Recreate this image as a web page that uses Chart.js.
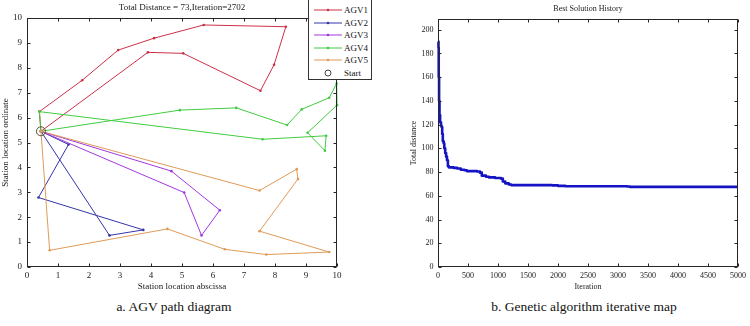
<!DOCTYPE html>
<html><head><meta charset="utf-8">
<script src="https://cdn.jsdelivr.net/npm/chart.js@4"></script>
<style>
html,body{margin:0;padding:0;background:#fff;width:750px;height:326px;overflow:hidden;font-family:"Liberation Serif",serif;}
#w1{position:absolute;left:0;top:0;width:345px;height:292px;}
#w2{position:absolute;left:390px;top:0;width:360px;height:292px;}
.cap{position:absolute;top:299px;font-size:13.5px;line-height:16px;color:#111;white-space:nowrap;transform:translateX(-50%);}
#legend{position:absolute;left:308px;top:-1px;width:64px;height:81px;border:1px solid #333;background:#fff;box-sizing:border-box;}
.lrow{position:absolute;left:0;width:62px;height:12px;}
.lrow svg{position:absolute;left:4px;top:0;}
.lrow span{position:absolute;left:35px;top:0;font-size:9px;line-height:12px;color:#111;font-weight:normal;}
</style></head><body>
<div id="w1"><canvas id="c1" width="345" height="292"></canvas></div>
<div id="w2"><canvas id="c2" width="360" height="292"></canvas></div>
<div id="legend"></div>
<div class="cap" style="left:174px">a. AGV path diagram</div>
<div class="cap" style="left:584px">b. Genetic algorithm iterative map</div>
<script>
// ---------- data: AGV paths ----------
const startPoint = [0.45, 5.45];
const agv1 = [[0.45,5.45],[0.4,6.24],[1.78,7.5],[2.94,8.71],[4.1,9.19],[5.7,9.72],[8.35,9.65],[7.97,8.12],[7.53,7.08],[5.04,8.58],[3.9,8.62],[0.45,5.45]];
const agv2 = [[0.45,5.45],[1.34,4.92],[0.37,2.79],[3.75,1.49],[2.66,1.27],[0.45,5.45]];
const agv3 = [[0.45,5.45],[4.66,3.85],[6.22,2.28],[5.63,1.27],[5.07,2.99],[0.45,5.45]];
const agv4 = [[0.45,5.45],[4.93,6.3],[6.75,6.39],[8.39,5.7],[8.86,6.33],[9.75,6.8],[9.99,7.37],[10,6.5],[9.05,5.39],[9.61,4.67],[9.65,5.27],[7.6,5.13],[0.4,6.24],[0.45,5.45]];
const agv5 = [[0.45,5.45],[7.5,3.07],[8.7,3.93],[8.74,3.53],[7.5,1.44],[9.75,0.6],[7.72,0.5],[6.38,0.71],[4.53,1.53],[0.73,0.67],[0.45,5.45]];
const agvNames = ['AGV1','AGV2','AGV3','AGV4','AGV5'];
const agvColors = ['#cc3048','#3434a8','#a038e0','#40cc40','#e09a58'];
const xTicksLeft = [0,1,2,3,4,5,6,7,8,9,10];
const yTicksLeft = [0,1,2,3,4,5,6,7,8,9,10];
const leftTitle = 'Total Distance = 73,Iteration=2702';

// ---------- data: GA history ----------
const iterations = [0,8,12,18,25,35,50,60,70,80,95,105,120,135,150,165,180,260,320,380,440,480,650,700,730,800,850,950,1050,1080,1120,1180,1220,1900,2000,2120,3150,3200,5000];
const bestDistance = [190,185,160,140,128,122,119,118,112,106,104,100,96,93,90,85,84,83.5,83,82,81.5,80.8,80.5,79.5,77,76,75.5,75,74.5,72,70.5,69.5,69,68.8,68.4,68,67.8,67.5,67.5];
const xTicksRight = [0,500,1000,1500,2000,2500,3000,3500,4000,4500,5000];
const yTicksRight = [0,20,40,60,80,100,120,140,160,180,200];

const SERIF = '"Liberation Serif", "Times New Roman", serif';
const TXT = '#1a1a1a';
const plain = v => String(v);

const matBox = {
  id: 'matBox',
  afterDraw(chart, args, opts) {
    const {ctx, chartArea: a, scales} = chart;
    const L = opts.len || 3;
    ctx.save();
    ctx.strokeStyle = '#262626';
    ctx.lineWidth = 1;
    const l = Math.round(a.left) + 0.5, r = Math.round(a.right) - 0.5;
    const t = Math.round(a.top) + 0.5, b = Math.round(a.bottom) - 0.5;
    ctx.beginPath();
    scales.x.ticks.forEach(tk => {
      const px = Math.round(scales.x.getPixelForValue(tk.value)) + 0.5;
      ctx.moveTo(px, b); ctx.lineTo(px, b - L);
      ctx.moveTo(px, t); ctx.lineTo(px, t + L);
    });
    scales.y.ticks.forEach(tk => {
      const py = Math.round(scales.y.getPixelForValue(tk.value)) + 0.5;
      ctx.moveTo(l, py); ctx.lineTo(l + L, py);
      ctx.moveTo(r, py); ctx.lineTo(r - L, py);
    });
    ctx.stroke();
    ctx.strokeRect(l, t, r - l, b - t);
    ctx.restore();
  }
};

function toXY(arr) { return arr.map(p => ({x: p[0], y: p[1]})); }

const paths = [agv1, agv2, agv3, agv4, agv5];
const leftDatasets = paths.map((p, i) => ({
  label: agvNames[i],
  data: toXY(p),
  showLine: true,
  borderColor: agvColors[i],
  backgroundColor: agvColors[i],
  borderWidth: 1,
  pointRadius: 1.3,
  pointBorderWidth: 0,
  pointBackgroundColor: agvColors[i],
  clip: 4,
  order: 5 - i
}));
leftDatasets.push({
  label: 'Start',
  data: [{x: startPoint[0], y: startPoint[1]}],
  showLine: false,
  pointRadius: 4.5,
  pointBorderWidth: 1,
  pointBorderColor: '#5a5030',
  pointBackgroundColor: 'rgba(0,0,0,0)',
  clip: 6,
  order: 0
});

new Chart(document.getElementById('c1'), {
  type: 'scatter',
  data: {datasets: leftDatasets},
  options: {
    responsive: false, animation: false,
    layout: {padding: {left: 0, right: 7, top: 0, bottom: 0}},
    plugins: {
      legend: {display: false}, tooltip: {enabled: false},
      title: {display: true, text: leftTitle, fullSize: false, color: TXT,
        font: {family: SERIF, size: 9, weight: 'normal'}, padding: {top: 2.6, bottom: 4.6}},
      matBox: {len: 3}
    },
    scales: {
      x: {type: 'linear', min: 0, max: 10,
        afterBuildTicks: s => { s.ticks = xTicksLeft.map(v => ({value: v})); },
        afterFit: s => { s.height = 25; },
        ticks: {font: {family: SERIF, size: 9}, color: TXT, padding: 3.5, maxRotation: 0, autoSkip: false, callback: plain},
        grid: {display: false, drawTicks: false}, border: {display: false},
        title: {display: true, text: 'Station location abscissa', color: TXT, font: {family: SERIF, size: 9}, padding: 0}},
      y: {type: 'linear', min: 0, max: 10,
        afterBuildTicks: s => { s.ticks = yTicksLeft.map(v => ({value: v})); },
        afterFit: s => { s.width = 27; },
        ticks: {font: {family: SERIF, size: 9}, color: TXT, padding: 5, autoSkip: false, callback: plain},
        grid: {display: false, drawTicks: false}, border: {display: false},
        title: {display: true, text: 'Station location ordinate', color: TXT, font: {family: SERIF, size: 9}, padding: 0}}
    }
  },
  plugins: [matBox]
});

new Chart(document.getElementById('c2'), {
  type: 'scatter',
  data: {datasets: [{
    label: 'Best',
    data: iterations.map((v, i) => ({x: v, y: bestDistance[i]})),
    showLine: true, stepped: 'before',
    borderColor: '#1414c4', borderWidth: 2.6, pointRadius: 0,
    borderJoinStyle: 'round', clip: 3
  }]},
  options: {
    responsive: false, animation: false,
    layout: {padding: {left: 0, right: 8, top: 0, bottom: 0}},
    plugins: {
      legend: {display: false}, tooltip: {enabled: false},
      title: {display: true, text: 'Best Solution History', fullSize: false, color: TXT,
        font: {family: SERIF, size: 8, weight: 'normal'}, padding: {top: 4.2, bottom: 5.2}},
      matBox: {len: 3}
    },
    scales: {
      x: {type: 'linear', min: 0, max: 5000,
        afterBuildTicks: s => { s.ticks = xTicksRight.map(v => ({value: v})); },
        afterFit: s => { s.height = 25; },
        ticks: {font: {family: SERIF, size: 8}, color: TXT, padding: 4, maxRotation: 0, autoSkip: false, callback: plain},
        grid: {display: false, drawTicks: false}, border: {display: false},
        title: {display: true, text: 'Iteration', color: TXT, font: {family: SERIF, size: 8}, padding: 0}},
      y: {type: 'linear', min: 0, max: 209,
        afterBuildTicks: s => { s.ticks = yTicksRight.map(v => ({value: v})); },
        afterFit: s => { s.width = 48; },
        ticks: {font: {family: SERIF, size: 8}, color: TXT, padding: 4.5, autoSkip: false, callback: plain},
        grid: {display: false, drawTicks: false}, border: {display: false},
        title: {display: true, text: 'Total distance', color: TXT, font: {family: SERIF, size: 8}, padding: {top: 19, bottom: 0}}}
    }
  },
  plugins: [matBox]
});

// ---------- legend ----------
const legend = document.getElementById('legend');
const legendNames = agvNames.concat(['Start']);
legendNames.forEach((name, i) => {
  const row = document.createElement('div');
  row.className = 'lrow';
  row.style.top = (4 + i * 12.6) + 'px';
  let svg;
  if (i < agvNames.length) {
    const c = agvColors[i];
    svg = '<svg width="30" height="12"><line x1="1" y1="6" x2="29" y2="6" stroke="' + c + '" stroke-width="1"/><circle cx="15" cy="6" r="1.3" fill="' + c + '"/></svg>';
  } else {
    svg = '<svg width="30" height="12"><circle cx="15" cy="6" r="3" fill="none" stroke="#333" stroke-width="0.9"/></svg>';
  }
  row.innerHTML = svg + '<span>' + name + '</span>';
  legend.appendChild(row);
});
</script>
</body></html>
